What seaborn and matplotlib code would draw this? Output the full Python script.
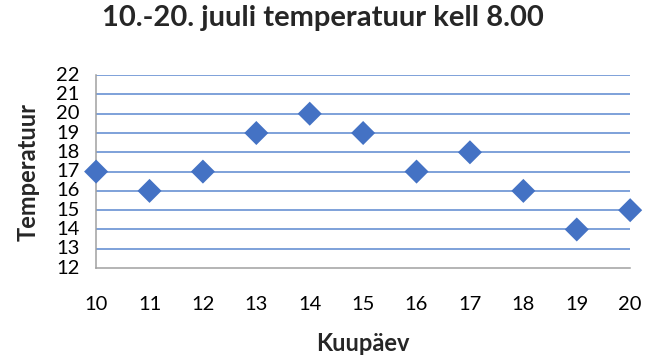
import matplotlib
matplotlib.use("Agg")
import matplotlib.pyplot as plt
import seaborn as sns
import pandas as pd

# July 10-20 morning temperatures at 8:00
days = [10, 11, 12, 13, 14, 15, 16, 17, 18, 19, 20]
temps = [17, 16, 17, 19, 20, 19, 17, 18, 16, 14, 15]
y_ticks = list(range(12, 23))
x_ticks = days

sns.set_theme(style="white")
plt.rcParams["font.family"] = ["Lato", "DejaVu Sans"]

df = pd.DataFrame({"Kuupäev": days, "Temperatuur": temps})

fig = plt.figure(figsize=(6.45, 3.56), dpi=100)
ax = fig.add_axes([0.149, 0.247, 0.828, 0.542])

for y in y_ticks[1:]:
    ax.axhline(y, color="#5B87D0", linewidth=1.1, zorder=1)

sns.scatterplot(data=df, x="Kuupäev", y="Temperatuur", marker="D", s=150,
                color="#4472C4", edgecolor="none", ax=ax, zorder=3, clip_on=False)

ax.set_xlim(10, 20)
ax.set_ylim(12, 22)
ax.set_xticks(x_ticks)
ax.set_yticks(y_ticks)
ax.tick_params(axis="x", labelsize=14.5, pad=20, length=0, colors="#000000")
ax.tick_params(axis="y", labelsize=14.5, pad=12, length=0, colors="#000000")
for lbl in ax.get_yticklabels():
    lbl.set_verticalalignment("center")

for side in ["top", "right"]:
    ax.spines[side].set_visible(False)
for side in ["left", "bottom"]:
    ax.spines[side].set_color("#A0A0A0")
    ax.spines[side].set_linewidth(1.1)

ax.set_xlabel("Kuupäev", fontsize=17, fontweight="bold", labelpad=14)
ax.set_ylabel("Temperatuur", fontsize=17, fontweight="bold", labelpad=12)
fig.suptitle("10.-20. juuli temperatuur kell 8.00", x=0.5, y=0.985,
             fontsize=21, fontweight="bold")

fig.savefig("out.png", dpi=100, facecolor="white")
